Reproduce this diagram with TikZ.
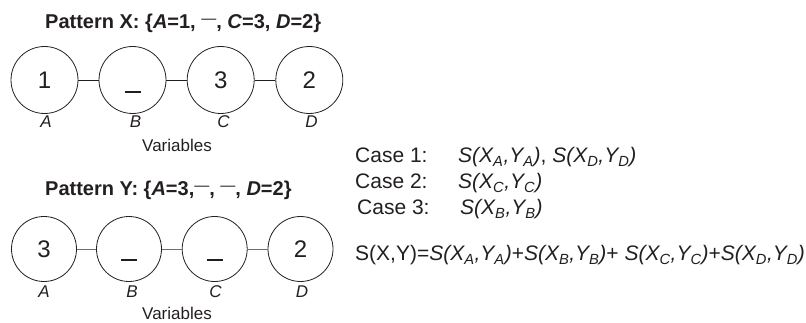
\documentclass[tikz,border=0pt]{standalone}
\usepackage{fontspec}
\setmainfont{Liberation Sans}
\definecolor{ink}{HTML}{231F20}
\definecolor{linkgray}{HTML}{6D6E71}
\newcommand\mySxy[1]{\textit{S(X\textsubscript{#1},Y\textsubscript{#1})}}
\newcommand\myDash{\raisebox{5.5pt}{\fontsize{15}{15}\selectfont\mdseries —}}
\tikzset{
  var/.style={circle,draw=ink,line width=0.8pt,inner sep=0pt,minimum size=#1,
    text=ink,font=\fontsize{24}{27}\selectfont},
  linkx/.style={draw=ink,line width=0.8pt},
  linky/.style={draw=linkgray,line width=0.9pt},
  blank/.style={draw=ink,line width=1.8pt},
  title/.style={anchor=base west,inner sep=0pt,text=ink,font=\fontsize{20}{24}\selectfont\bfseries},
  varlab/.style={anchor=base,inner sep=0pt,text=ink,font=\fontsize{17}{20}\selectfont\itshape},
  caption/.style={anchor=base,inner sep=0pt,text=ink,font=\fontsize{17}{20}\selectfont},
  eq/.style={anchor=base west,inner sep=0pt,text=ink,font=\fontsize{21}{25}\selectfont}
}
\begin{document}
\begin{tikzpicture}[x=1pt,y=-1pt]
\useasboundingbox (0,0) rectangle (806,323);

% ---------- Pattern X ----------
\node[title] (tx) at (45,29) {Pattern X: \{\textit{A}=1, \myDash, \textit{C}=3, \textit{D}=2\}};
\node[var=67pt] (xa) at (44.5,80) {1};
\node[var=67pt] (xb) at (132.5,80) {};
\node[var=67pt] (xc) at (220.7,80) {3};
\node[var=67pt] (xd) at (309.3,80) {2};
\draw[linkx] (xa) -- (xb);
\draw[linkx] (xb) -- (xc);
\draw[linkx] (xc) -- (xd);
\draw[blank] ([xshift=-8pt,yshift=-12pt]xb.center) -- ++(16,0);
\node[varlab] (lxa) at (46,128) {A};
\node[varlab] (lxb) at (135.5,128) {B};
\node[varlab] (lxc) at (223.5,128) {C};
\node[varlab] (lxd) at (311.5,128) {D};
\node[caption] (vx) at (177,152) {Variables};

% ---------- Pattern Y ----------
\node[title] (ty) at (45,196) {Pattern Y: \{\textit{A}=3,\myDash, \myDash, \textit{D}=2\}};
\node[var=65pt] (ya) at (44,249) {3};
\node[var=65pt] (yb) at (129,249) {};
\node[var=65pt] (yc) at (214.7,249) {};
\node[var=65pt] (yd) at (300.5,249) {2};
\draw[linky] (ya) -- (yb);
\draw[linky] (yb) -- (yc);
\draw[linky] (yc) -- (yd);
\draw[blank] ([xshift=-8pt,yshift=-11pt]yb.center) -- ++(16,0);
\draw[blank] ([xshift=-8pt,yshift=-11pt]yc.center) -- ++(16,0);
\node[varlab] (lya) at (44,298) {A};
\node[varlab] (lyb) at (132,298) {B};
\node[varlab] (lyc) at (215.5,298) {C};
\node[varlab] (lyd) at (302,298) {D};
\node[caption] (vy) at (177,319) {Variables};

% ---------- Cases ----------
\node[eq] (c1) at (355,163) {Case 1:};
\node[eq] (s1) at (458,163) {\mySxy{A}, \mySxy{D}};
\node[eq] (c2) at (355,189) {Case 2:};
\node[eq] (s2) at (458,189) {\mySxy{C}};
\node[eq] (c3) at (357,215) {Case 3:};
\node[eq] (s3) at (460,215) {\mySxy{B}};
\node[eq] (sum) at (355,261) {S(X,Y)=\mySxy{A}+\mySxy{B}+ \mySxy{C}+\mySxy{D}};
\end{tikzpicture}
\end{document}
